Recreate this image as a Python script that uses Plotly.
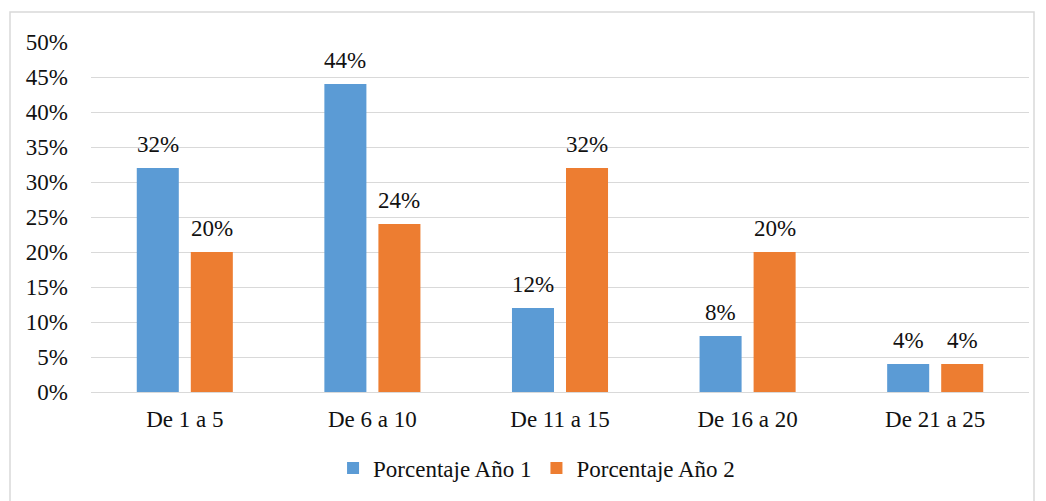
import plotly.graph_objects as go

categories = ["De 1 a 5", "De 6 a 10", "De 11 a 15", "De 16 a 20", "De 21 a 25"]
anio1 = [32, 44, 12, 8, 4]
anio2 = [20, 24, 32, 20, 4]
series_names = ["Porcentaje Año 1", "Porcentaje Año 2"]
colors = ["#5b9bd5", "#ed7d31"]
y_ticks = [0, 5, 10, 15, 20, 25, 30, 35, 40, 45, 50]

FONT = "Liberation Serif, Times New Roman, serif"
FS = 23
TXT = "#111"

fig = go.Figure()
for name, vals, col in zip(series_names, [anio1, anio2], colors):
    fig.add_trace(go.Bar(
        x=categories, y=vals, name=name,
        marker=dict(color=col, line=dict(width=0)),
        text=[f"{v}%" for v in vals],
        texttemplate="%{text}",
        textposition="none",
        cliponaxis=False,
    ))

W, H = 1046, 501
ml, mr, mt, mb = 91, 17, 42, 109
pw, ph = W - ml - mr, H - mt - mb
y_bottom = H - mb

# value labels above each bar, offset to its side of the group
annotations = []
for i, vals in enumerate([anio1, anio2]):
    for cat, v in zip(categories, vals):
        annotations.append(dict(
            x=cat, y=v, xref="x", yref="y", text=f"{v}%", showarrow=False,
            xanchor="center", yanchor="bottom", yshift=9,
            xshift=(-27 if i == 0 else 27),
            font=dict(family=FONT, size=FS, color=TXT),
        ))

fig.update_layout(
    width=W, height=H,
    margin=dict(l=ml, r=mr, t=mt, b=mb),
    paper_bgcolor="white", plot_bgcolor="white",
    barmode="group", bargap=0.424, bargroupgap=0.222,
    font=dict(family=FONT, size=FS, color=TXT),
    showlegend=True,
    legend=dict(orientation="h", x=0.475, xanchor="center", y=-0.217, yanchor="middle",
                font=dict(family=FONT, size=FS, color=TXT),
                itemwidth=30, traceorder="normal"),
    xaxis=dict(showgrid=False, showline=False, ticks="", ticklabelstandoff=11,
               tickfont=dict(family=FONT, size=FS, color=TXT)),
    yaxis=dict(range=[0, 50], tickvals=y_ticks, ticktext=[f"{v}%" for v in y_ticks],
               showgrid=True, gridcolor="#d9d9d9", gridwidth=1.3,
               zeroline=True, zerolinecolor="#d9d9d9", zerolinewidth=1.3,
               showline=False, ticks="", ticklabelstandoff=22,
               tickfont=dict(family=FONT, size=FS, color=TXT)),
    annotations=annotations,
    shapes=[dict(type="rect", xref="paper", yref="paper",
                 x0=(10 - ml) / pw, x1=(1034 - ml) / pw,
                 y0=(y_bottom - 510) / ph, y1=(y_bottom - 12) / ph,
                 line=dict(color="#d9d9d9", width=1.5), fillcolor="rgba(0,0,0,0)", layer="below")],
)

fig.write_html("out.html")
